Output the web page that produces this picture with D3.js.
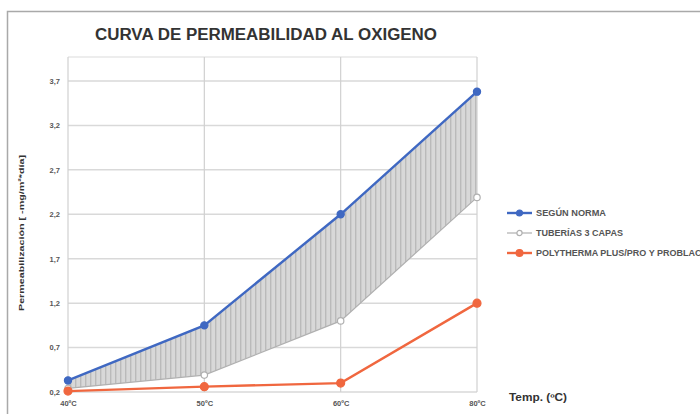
<!DOCTYPE html>
<html>
<head>
<meta charset="utf-8">
<script src="https://cdn.jsdelivr.net/npm/d3@7/dist/d3.min.js"></script>
<style>
  html, body { margin: 0; padding: 0; background: #fff; }
  svg { display: block; }
  text { font-family: "Liberation Sans", Arial, sans-serif; }
</style>
</head>
<body>
<svg id="chart" width="700" height="414"></svg>
<script>
// Temperatures on the x axis
const categories = ["40ºC", "50ºC", "60ºC", "80ºC"];
// Oxygen permeability per series
const seriesNames = ["SEGÚN NORMA", "TUBERÍAS 3 CAPAS", "POLYTHERMA PLUS/PRO Y PROBLACK"];
const segunNorma = [0.33, 0.95, 2.2, 3.58];
const tuberias3Capas = [0.24, 0.39, 1.0, 2.39];
const polytherma = [0.21, 0.26, 0.30, 1.2];
// Y axis ticks
const yTicks = [0.2, 0.7, 1.2, 1.7, 2.2, 2.7, 3.2, 3.7];

const svg = d3.select("#chart");
const plot = { left: 68, right: 477, top: 57, bottom: 392 };

const x = d3.scalePoint().domain(categories).range([plot.left, plot.right]);
const y = d3.scaleLinear().domain([0.2, 3.97]).range([plot.bottom, plot.top]);
const fmt = v => d3.format(".1f")(v).replace(".", ",");

// Outer chart frame
svg.append("rect")
  .attr("x", 7.5).attr("y", 11.5).attr("width", 710).attr("height", 420)
  .attr("fill", "#fff").attr("stroke", "#a9a9a9").attr("stroke-width", 1.5);

// Title
svg.append("text")
  .attr("x", 266).attr("y", 40)
  .attr("text-anchor", "middle")
  .attr("font-size", 16).attr("font-weight", "bold")
  .attr("fill", "#333")
  .attr("textLength", 342).attr("lengthAdjust", "spacingAndGlyphs")
  .text("CURVA DE PERMEABILIDAD AL OXIGENO");

// Hatch pattern for the band between the two upper series
const defs = svg.append("defs");
const pat = defs.append("pattern")
  .attr("id", "hatch").attr("patternUnits", "userSpaceOnUse")
  .attr("width", 5).attr("height", 10);
pat.append("rect").attr("width", 5).attr("height", 10).attr("fill", "#d8d8d8");
pat.append("rect").attr("x", 0).attr("width", 1.4).attr("height", 10).attr("fill", "#bababa");

// Gridlines
const grid = svg.append("g");
grid.selectAll("line.h").data(yTicks).join("line")
  .attr("x1", plot.left).attr("x2", plot.right)
  .attr("y1", d => y(d)).attr("y2", d => y(d))
  .attr("stroke", "#d9d9d9").attr("stroke-width", 1.5);
grid.append("line")
  .attr("x1", plot.left).attr("x2", plot.right)
  .attr("y1", plot.top).attr("y2", plot.top)
  .attr("stroke", "#dcdcdc").attr("stroke-width", 1.2);
grid.selectAll("line.v").data(categories).join("line")
  .attr("x1", d => x(d)).attr("x2", d => x(d))
  .attr("y1", plot.top).attr("y2", plot.bottom)
  .attr("stroke", "#d0d0d0").attr("stroke-width", 1.2);

// Band between "según norma" and "tuberías 3 capas"
const band = categories.map((c, i) => ({ c, hi: segunNorma[i], lo: tuberias3Capas[i] }));
svg.append("path")
  .datum(band)
  .attr("fill", "url(#hatch)")
  .attr("d", d3.area().x(d => x(d.c)).y0(d => y(d.lo)).y1(d => y(d.hi)));

// Axis tick labels
const yAxis = d3.axisLeft(y).tickValues(yTicks).tickFormat(fmt).tickSize(0).tickPadding(8);
const gy = svg.append("g").attr("transform", `translate(${plot.left},0)`).call(yAxis);
gy.select(".domain").remove();
gy.selectAll("text").attr("font-size", 7.5).attr("font-weight", "bold").attr("fill", "#555")
  .attr("font-family", "'Liberation Sans', sans-serif");

const xAxis = d3.axisBottom(x).tickSize(0).tickPadding(9);
const gx = svg.append("g").attr("transform", `translate(0,${plot.bottom})`).call(xAxis);
gx.select(".domain").remove();
gx.selectAll("text").attr("font-size", 7.5).attr("font-weight", "bold").attr("fill", "#555")
  .attr("font-family", "'Liberation Sans', sans-serif");

// Axis titles
svg.append("text")
  .attr("transform", "translate(24,233) rotate(-90)")
  .attr("text-anchor", "middle")
  .attr("font-size", 8).attr("font-weight", "bold").attr("fill", "#333")
  .attr("textLength", 156).attr("lengthAdjust", "spacingAndGlyphs")
  .text("Permeabilización [ -mg/m²*día]");
svg.append("text")
  .attr("x", 509).attr("y", 401)
  .attr("font-size", 10).attr("font-weight", "bold").attr("fill", "#333")
  .attr("textLength", 58).attr("lengthAdjust", "spacingAndGlyphs")
  .text("Temp. (ºC)");

// Series lines and markers
const series = [
  { name: seriesNames[0], values: segunNorma, color: "#3f68c2", width: 2.4, r: 3.6, fill: "#3f68c2", len: 70 },
  { name: seriesNames[1], values: tuberias3Capas, color: "#b0b0b0", width: 1.2, r: 3.2, fill: "#fff", len: 87 },
  { name: seriesNames[2], values: polytherma, color: "#f0673f", width: 2.4, r: 4, fill: "#f0673f", len: 172 }
];
const line = d3.line().x(d => x(d.c)).y(d => y(d.v));
series.forEach(s => {
  const pts = categories.map((c, i) => ({ c, v: s.values[i] }));
  const g = svg.append("g");
  g.append("path").datum(pts)
    .attr("fill", "none").attr("stroke", s.color).attr("stroke-width", s.width)
    .attr("d", line);
  g.selectAll("circle").data(pts).join("circle")
    .attr("cx", d => x(d.c)).attr("cy", d => y(d.v)).attr("r", s.r)
    .attr("fill", s.fill).attr("stroke", s.color).attr("stroke-width", 1.2);
});

// Legend
const legend = svg.append("g").attr("transform", "translate(507,213)");
series.forEach((s, i) => {
  const row = legend.append("g").attr("transform", `translate(0,${i * 20})`);
  row.append("line").attr("x1", 0).attr("x2", 25).attr("y1", 0).attr("y2", 0)
    .attr("stroke", s.color).attr("stroke-width", s.width);
  row.append("circle").attr("cx", 12.5).attr("cy", 0).attr("r", s.r - 0.6)
    .attr("fill", s.fill).attr("stroke", s.color).attr("stroke-width", 1.2);
  row.append("text").attr("x", 29).attr("y", 3)
    .attr("font-size", 8.5).attr("font-weight", "bold").attr("fill", "#555")
    .attr("textLength", s.len).attr("lengthAdjust", "spacingAndGlyphs")
    .text(s.name);
});
</script>
</body>
</html>
